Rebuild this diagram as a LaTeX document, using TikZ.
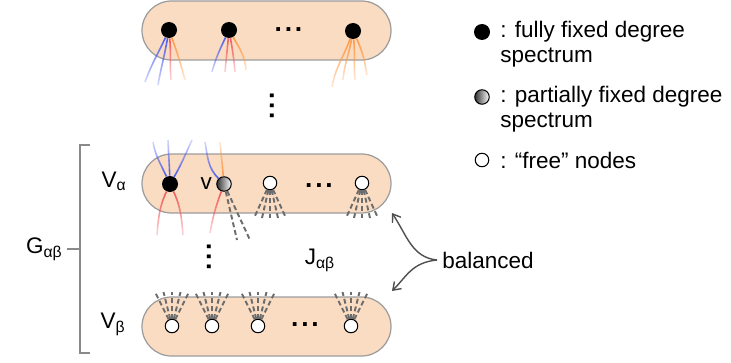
\documentclass[tikz,border=0pt]{standalone}
\usepackage{fontspec}
\setmainfont{Liberation Sans}
\usetikzlibrary{arrows.meta,positioning,fadings}
\definecolor{bandfill}{HTML}{FADCC2}
\definecolor{bandline}{HTML}{9C9C9C}
\definecolor{edgeblue}{HTML}{4A5CF2}
\definecolor{edgered}{HTML}{F2585C}
\definecolor{edgeorange}{HTML}{FF9A48}
\definecolor{stubgray}{HTML}{6C6C6C}
\definecolor{bracegray}{HTML}{8A8A8A}
\definecolor{pointergray}{HTML}{4F4F4F}
\tikzfading[name=fade downward, top color=transparent!0, bottom color=transparent!78]
\tikzfading[name=fade upward, top color=transparent!78, bottom color=transparent!0]
\tikzset{
  vset/.style={draw=bandline, fill=bandfill, line width=0.7pt, rounded corners=0.59cm,
    minimum width=4.98cm, minimum height=1.18cm},
  fixed/.style={circle, fill=black, inner sep=0pt, minimum size=0.32cm},
  partial/.style={circle, draw=black, line width=0.6pt, left color=black!80, right color=white,
    inner sep=0pt, minimum size=0.29cm},
  free/.style={circle, draw=black, fill=white, line width=0.6pt, inner sep=0pt, minimum size=0.27cm},
  tail down/.style={line width=0.9pt, path fading=fade downward},
  tail up/.style={line width=0.9pt, path fading=fade upward},
  stub/.style={stubgray, line width=1.1pt, dash pattern=on 2.8pt off 1.7pt},
  dots/.style={font=\fontsize{15}{15}\selectfont\bfseries, inner sep=0pt},
  tag/.style={inner sep=0pt},
  brace/.style={bracegray, line width=0.8pt},
  pointer/.style={pointergray, line width=0.8pt, -{Straight Barb[angle=70:5pt]}}
}

\begin{document}
\begin{tikzpicture}[every node/.style={font=\fontsize{12.8}{14.2}\selectfont}]
\useasboundingbox (0,0) rectangle (14.62,7.24);
\node[vset] (outer) at (5.33,6.63) {};
\node[vset] (seta) at (5.33,3.57) {};
\node[vset] (setb) at (5.33,0.71) {};

% outer set, all degrees fixed
\node[fixed] (t1) at (3.38,6.64) {};
\node[fixed] (t2) at (4.58,6.64) {};
\node[fixed] (t3) at (7.06,6.62) {};
\node[dots] (tdots) at (5.77,6.64) {.\kern1.6pt.\kern1.6pt.};
\node[dots,rotate=90] (vdots1) at (5.44,5.12) {.\kern1.6pt.\kern1.6pt.};
\draw[tail down,edgeblue] (t1) to[out=-115,in=70] ++(-0.48,-1.04);
\draw[tail down,edgeblue] (t1) to[out=-100,in=80] ++(-0.22,-1.1);
\draw[tail down,edgered] (t1) to[out=-85,in=95] ++(0.04,-1.0);
\draw[tail down,edgeorange] (t1) to[out=-70,in=105] ++(0.32,-1.0);
\draw[tail down,edgeblue] (t2) to[out=-115,in=75] ++(-0.34,-0.84);
\draw[tail down,edgered] (t2) to[out=-95,in=85] ++(-0.08,-0.84);
\draw[tail down,edgered] (t2) to[out=-80,in=95] ++(0.12,-0.84);
\draw[tail down,edgeorange] (t2) to[out=-60,in=95] ++(0.34,-0.8);
\draw[tail down,edgeorange] (t3) to[out=-110,in=80] ++(-0.42,-1.12);
\draw[tail down,edgeorange] (t3) to[out=-100,in=85] ++(-0.2,-0.98);
\draw[tail down,edgeorange] (t3) to[out=-85,in=95] ++(0.04,-0.98);
\draw[tail down,edgeorange] (t3) to[out=-65,in=100] ++(0.28,-0.88);

% V_alpha
\node[fixed] (a1) at (3.4,3.56) {};
\node[partial] (a2) at (4.48,3.56) {};
\node[free] (a3) at (5.4,3.58) {};
\node[free] (a4) at (7.24,3.58) {};
\node[tag, left=0.08cm of a2] (v) {v};
\node[dots] (adots) at (6.38,3.52) {.\kern1.6pt.\kern1.6pt.};
\draw[tail up,edgeblue] (a1) to[out=115,in=-80] ++(-0.34,0.84);
\draw[tail up,edgeblue] (a1) to[out=92,in=-88] ++(-0.04,0.88);
\draw[tail up,edgeblue] (a1) to[out=60,in=-115] ++(0.44,0.88);
\draw[tail down,edgered] (a1) to[out=-115,in=85] ++(-0.26,-1.02);
\draw[tail down,edgered] (a1) to[out=-65,in=95] ++(0.26,-1.02);
\draw[tail up,edgeblue] (a2) to[out=135,in=-80] ++(-0.38,0.84);
\draw[tail up,edgeorange] (a2) to[out=95,in=-85] ++(-0.08,0.84);
\draw[tail down,edgered] (a2) to[out=-110,in=80] ++(-0.28,-0.98);
\draw[stub] (a2) -- ++(0.26,-1.12);
\draw[stub] (a2) -- ++(0.52,-1.12);
\foreach \n in {a3,a4}
  \foreach \dx in {-0.32,-0.16,0,0.16,0.32}
    \draw[stub] (\n) -- ++(\dx,-0.7);

% V_beta
\node[free] (b1) at (3.44,0.72) {};
\node[free] (b2) at (4.24,0.72) {};
\node[free] (b3) at (5.16,0.72) {};
\node[free] (b4) at (7.02,0.72) {};
\node[dots] (bdots) at (6.1,0.74) {.\kern1.6pt.\kern1.6pt.};
\foreach \n in {b1,b2,b3,b4}
  \foreach \dx in {-0.34,-0.17,0,0.17,0.34}
    \draw[stub] (\n) -- ++(\dx,0.68);

\node[tag] (labela) at (2.28,3.62) {V\textsubscript{α}};
\node[tag] (labelb) at (2.26,0.75) {V\textsubscript{β}};
\node[tag] (jab) at (6.4,2.04) {J\textsubscript{αβ}};
\node[dots,rotate=90] (vdots2) at (4.18,2.1) {.\kern1.6pt.\kern1.6pt.};

% brace round both sets
\coordinate (btop) at (1.8,4.34);
\coordinate (bbot) at (1.8,0.18);
\coordinate (bmid) at (1.6,2.26);
\draw[brace] (btop) -- (1.6,4.34) -- (1.6,0.18) -- (bbot);
\draw[brace] (bmid) -- ++(-0.26,0) coordinate (btip);
\node[tag, left=0.08cm of btip] (gab) {G\textsubscript{αβ}};

% key
\node[fixed] (kfixed) at (9.64,6.6) {};
\node[partial] (kpartial) at (9.64,5.3) {};
\node[free] (kfree) at (9.64,4.04) {};
\node[tag, anchor=west, align=left] (tfixed) at (10.0,6.35) {: fully fixed degree\\spectrum};
\node[tag, anchor=west, align=left] (tpartial) at (10.0,5.05) {: partially fixed degree\\spectrum};
\node[tag, anchor=west] (tfree) at (10.0,4.04) {: “free” nodes};

\node[tag, anchor=west] (bal) at (8.84,2.04) {balanced};
\coordinate (hita) at (7.84,2.98);
\coordinate (hitb) at (7.84,1.42);
\draw[pointer] ([xshift=-0.1cm]bal.west) .. controls +(-0.5,0.05) and +(0.3,-0.45) .. (hita);
\draw[pointer] ([xshift=-0.1cm]bal.west) .. controls +(-0.5,-0.05) and +(0.3,0.3) .. (hitb);
\end{tikzpicture}
\end{document}
